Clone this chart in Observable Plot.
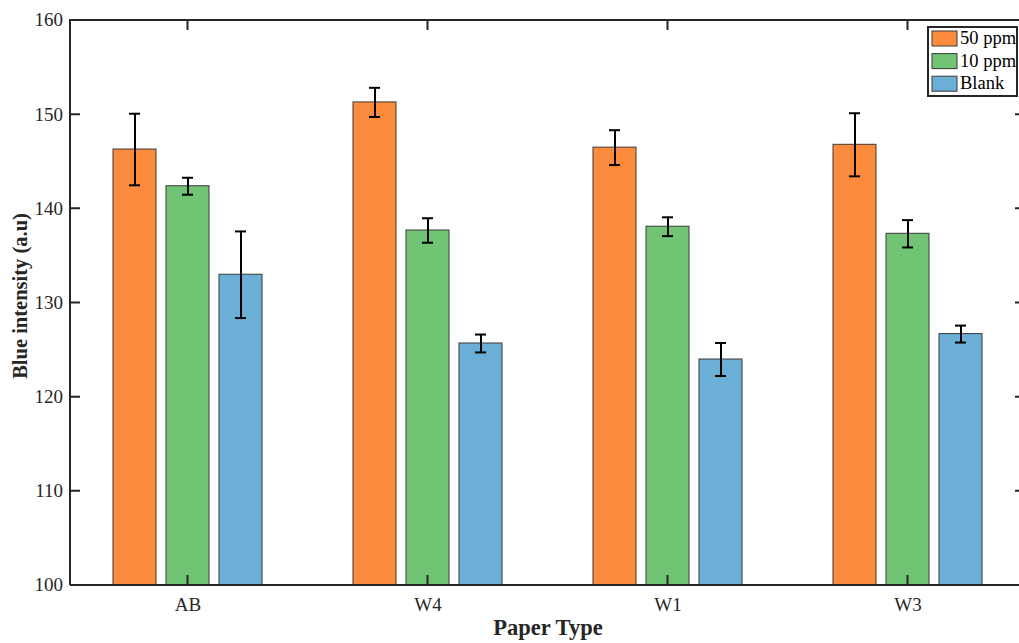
<!DOCTYPE html>
<html>
<head>
<meta charset="utf-8">
<script src="https://cdn.jsdelivr.net/npm/d3@7"></script>
<script src="https://cdn.jsdelivr.net/npm/@observablehq/plot@0.6"></script>
<style>
  html, body { margin: 0; padding: 0; background: #fff; }
  #wrap { width: 1019px; height: 643px; overflow: hidden; position: relative; }
  #wrap svg { max-width: none !important; }
</style>
</head>
<body>
<div id="wrap"></div>
<script>
// ---- data ----
const groups = ["AB", "W4", "W1", "W3"];
const series = ["50 ppm", "10 ppm", "Blank"];
const values50 = [146.3, 151.3, 146.5, 146.8];
const values10 = [142.4, 137.7, 138.1, 137.35];
const valuesBlank = [133.0, 125.7, 124.0, 126.7];
const err50 = [3.8, 1.55, 1.85, 3.35];
const err10 = [0.9, 1.3, 1.0, 1.45];
const errBlank = [4.6, 0.95, 1.75, 0.9];
const yTicks = [100, 110, 120, 130, 140, 150, 160];
const colors = ["#FD8B3D", "#72C475", "#6BAED6"];
const yLabel = "Blue intensity (a.u)";
const xLabel = "Paper Type";

const valueSets = [values50, values10, valuesBlank];
const errSets = [err50, err10, errBlank];
const data = [];
groups.forEach((g, i) => {
  series.forEach((s, j) => {
    data.push({group: g, series: s, value: valueSets[j][i], err: errSets[j][i]});
  });
});
const base = yTicks[0];

const W = 1030, H = 643, mL = 70, mR = 5, mT = 20, mB = 58;
const ink = "#262626";
const fontFam = "'Liberation Serif', 'Times New Roman', serif";

const plot = Plot.plot({
  width: W, height: H,
  marginLeft: mL, marginRight: mR, marginTop: mT, marginBottom: mB,
  style: {fontFamily: fontFam, fontSize: "19px", color: ink, background: "#fff", overflow: "visible", maxWidth: "none"},
  fx: {domain: groups, paddingInner: 0.379, paddingOuter: 0.178, axis: "bottom", tickSize: 0, tickPadding: 12, label: null},
  x: {domain: series, paddingInner: 0.1887, paddingOuter: 0, axis: null},
  y: {domain: [yTicks[0], yTicks[yTicks.length - 1]], axis: null},
  color: {domain: series, range: colors},
  marks: [
    Plot.barY(data, {fx: "group", x: "series", y1: () => base, y2: "value", fill: "series", stroke: "#3a3a3a", strokeWidth: 1}),
    Plot.ruleX(data, {fx: "group", x: "series", y1: d => d.value - d.err, y2: d => d.value + d.err, stroke: "#000", strokeWidth: 2}),
    Plot.tickY(data, {fx: "group", x: "series", y: d => d.value + d.err, stroke: "#000", strokeWidth: 2, insetLeft: 16, insetRight: 16}),
    Plot.tickY(data, {fx: "group", x: "series", y: d => d.value - d.err, stroke: "#000", strokeWidth: 2, insetLeft: 16, insetRight: 16})
  ]
});

document.getElementById("wrap").appendChild(plot);

const svg = d3.select(plot);
// enlarge Plot's own (fx) tick labels
svg.selectAll("text").style("font-size", "19px").attr("fill", ink);

// ---- frame, inward ticks, labels, legend ----
const ys = plot.scale("y");
const fxs = plot.scale("fx");
const yPos = v => ys.apply(v);
const fxCenter = g => fxs.apply(g) + fxs.bandwidth / 2;
const x0 = mL, x1 = W - mR, yTop = mT, yBot = H - mB;

const g = svg.append("g").attr("fill", "none").attr("stroke", ink).attr("stroke-width", 2);
g.append("path").attr("d", `M${x0},${yBot}H${x1}M${x0},${yBot}V${yTop}H${x1}V${yBot}`);
yTicks.forEach(v => {
  const y = yPos(v);
  g.append("path").attr("d", `M${x0},${y}h10M${x1},${y}h-10`);
});
groups.forEach(gr => {
  const x = fxCenter(gr);
  g.append("path").attr("d", `M${x},${yBot}v-10M${x},${yTop}v10`);
});

const tl = svg.append("g").attr("font-size", 19).attr("fill", ink).attr("text-anchor", "end").attr("font-family", fontFam);
yTicks.forEach(v => {
  tl.append("text").attr("x", x0 - 7).attr("y", yPos(v)).attr("dy", "0.34em").text(String(v));
});

svg.append("text")
  .attr("transform", `translate(27,296) rotate(-90)`)
  .attr("text-anchor", "middle")
  .attr("font-weight", "bold").attr("font-size", 20.5).attr("fill", ink)
  .text(yLabel);
svg.append("text")
  .attr("x", 548).attr("y", 635)
  .attr("text-anchor", "middle")
  .attr("font-weight", "bold").attr("font-size", 22.5).attr("fill", ink)
  .text(xLabel);

const cs = plot.scale("color");
const lg = svg.append("g");
lg.append("rect").attr("x", 928).attr("y", 27).attr("width", 89).attr("height", 69)
  .attr("fill", "#fff").attr("stroke", ink).attr("stroke-width", 2);
series.forEach((s, i) => {
  const yy = 31 + i * 22.6;
  lg.append("rect").attr("x", 932).attr("y", yy).attr("width", 25).attr("height", 15)
    .attr("fill", cs.apply(s)).attr("stroke", "#3a3a3a").attr("stroke-width", 1);
  lg.append("text").attr("x", 960).attr("y", yy + 13).attr("font-size", 18.5).attr("fill", "#000")
    .attr("text-anchor", "start")
    .text(s);
});
</script>
</body>
</html>
